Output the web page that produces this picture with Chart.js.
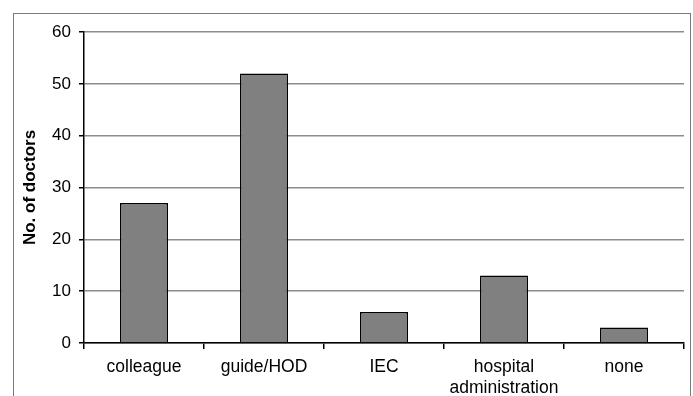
<!DOCTYPE html>
<html>
<head>
<meta charset="utf-8">
<script src="https://cdn.jsdelivr.net/npm/chart.js@4/dist/chart.umd.min.js"></script>
<style>
  html, body { margin: 0; padding: 0; background: #fff; }
  #wrap { position: relative; width: 693px; height: 396px; overflow: hidden; }
  #frame { position: absolute; left: 13px; top: 13px; width: 678px; height: 400px;
           border: 1px solid #7a7a7a; box-sizing: border-box; }
  canvas { position: absolute; left: 0; top: 0; }
</style>
</head>
<body>
<div id="wrap">
  <div id="frame"></div>
  <canvas id="chart" width="693" height="396"></canvas>
</div>
<script>
const categories = ['colleague', 'guide/HOD', 'IEC', ['hospital', 'administration'], 'none'];
const doctors = [27, 52, 6, 13, 3];

const ctx = document.getElementById('chart');

new Chart(ctx, {
  type: 'bar',
  data: {
    labels: categories,
    datasets: [{
      label: 'No. of doctors',
      data: doctors,
      backgroundColor: '#808080',
      borderColor: '#000',
      borderWidth: 1.5,
      barPercentage: 0.4,
      categoryPercentage: 1
    }]
  },
  options: {
    responsive: false,
    animation: false,
    layout: { padding: { left: 13, top: 32, right: 9, bottom: 0 } },
    plugins: {
      legend: { display: false },
      tooltip: { enabled: false }
    },
    scales: {
      x: {
        grid: { drawOnChartArea: false, drawTicks: true, tickLength: 6, tickColor: '#000', lineWidth: 1.5 },
        border: { color: '#000', width: 1.5 },
        ticks: { color: '#000', font: { family: 'Liberation Sans, Arial', size: 17.5 }, padding: 8, maxRotation: 0 },
        afterFit: scale => { scale.height = 53; }
      },
      y: {
        min: 0,
        max: 60,
        ticks: { stepSize: 10, color: '#000', font: { family: 'Liberation Sans, Arial', size: 17 }, padding: 8 },
        grid: { color: '#8c8c8c', lineWidth: 1.5, tickColor: '#000', tickLength: 5 },
        border: { color: '#000', width: 1.5 },
        title: {
          display: true,
          text: 'No. of doctors',
          color: '#000',
          font: { family: 'Liberation Sans, Arial', size: 17, weight: 'bold' },
          padding: { top: 7, bottom: 0 }
        },
        afterFit: scale => { scale.width = 71; }
      }
    }
  }
});
</script>
</body>
</html>
